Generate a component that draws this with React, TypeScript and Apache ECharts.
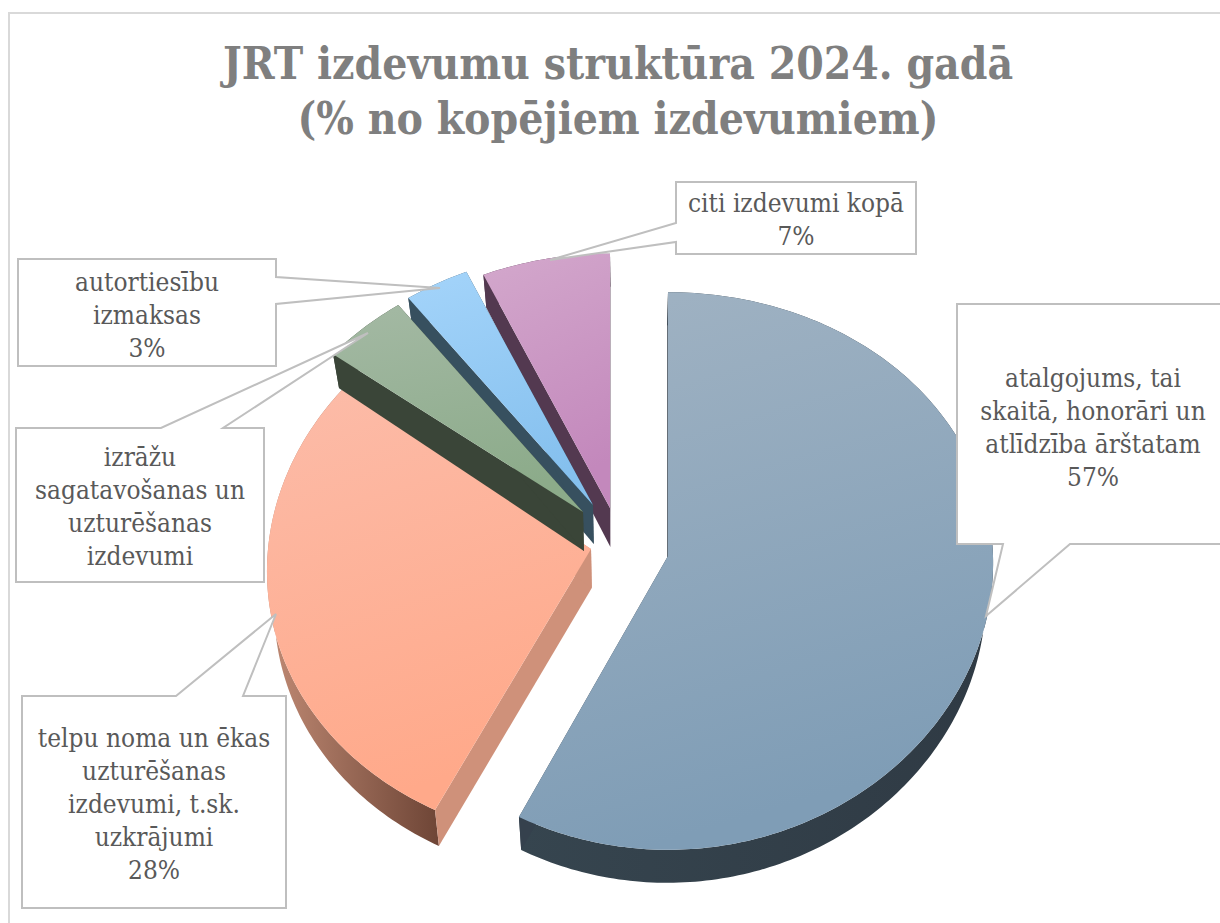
import React, { useEffect, useRef } from "react";
import * as echarts from "echarts";

const titleText = "JRT izdevumu struktūra 2024. gadā\n(% no kopējiem izdevumiem)";
const categories = [
  "atalgojums, tai\nskaitā, honorāri un\natlīdzība ārštatam",
  "telpu noma un ēkas\nuzturēšanas\nizdevumi, t.sk.\nuzkrājumi",
  "izrāžu\nsagatavošanas un\nuzturēšanas\nizdevumi",
  "autortiesību\nizmaksas",
  "citi izdevumi kopā",
];
const values = [57.4, 28.0, 4.5, 3.4, 6.7];
const showPercent = [true, true, false, true, true];

// Geometry and style, one entry per slice
const sliceGeometry = [
  { cx: 668, cy: 556, rx: 325, ry: 278, kx: 0.025, rimDepth: 33 },
  { cx: 591, cy: 549, rx: 323, ry: 278, kx: 0.08, rimDepth: 36 },
  { cx: 583, cy: 512, rx: 325, ry: 268, kx: 0.0537, rimDepth: 34 },
  { cx: 593, cy: 505, rx: 325, ry: 268, kx: 0.0537, rimDepth: 33 },
  { cx: 610, cy: 508, rx: 325, ry: 268, kx: 0.0537, rimDepth: 33 },
];
const topColors = [
  ["#A1B3C3", "#7F9DB6"],
  ["#FCBCA9", "#FFA98A"],
  ["#A4B9A4", "#8CAB8A"],
  ["#A4D4FA", "#85C0EE"],
  ["#D3A8CC", "#C388BC"],
];
const radialWallColors = ["#35414D", "#CF917A", "#3A4538", "#37505F", "#533950"];
const outerWallColors = [
  ["#36454F", "#2F3A44"],
  ["#C08A74", "#6E4536"],
  ["#3F483A", "#3F483A"],
  ["#3C5263", "#3C5263"],
  ["#553A50", "#553A50"],
];
const drawOrder = [4, 3, 1, 2, 0];

const PERSPECTIVE = 0.0537;
const VANISH_X = 630;
const SHRINK = 0.02;
const VERTEX_DEPTH = 39;

const callouts = [
  { poly: [[957, 304], [1240, 304], [1240, 544], [1070, 544], [986, 616], [1003, 544], [957, 544]], tx: 1093, ty: 427 },
  { poly: [[22, 696], [176, 696], [276, 614], [243, 696], [286, 696], [286, 908], [22, 908]], tx: 154, ty: 804 },
  { poly: [[16, 428], [161, 428], [368, 333], [223, 428], [264, 428], [264, 582], [16, 582]], tx: 140, ty: 506 },
  { poly: [[18, 259], [276, 259], [276, 277], [440, 288], [276, 304], [276, 366], [18, 366]], tx: 147, ty: 315 },
  { poly: [[676, 182], [916, 182], [916, 254], [676, 254], [676, 242], [550, 260], [676, 223]], tx: 796, ty: 219 },
];

function project(g: any, theta: number) {
  const u = Math.sin(theta);
  const v = Math.cos(theta);
  const w = 1 + PERSPECTIVE * v;
  const wx = 1 + g.kx * v;
  return [g.cx + (g.rx * u) / wx, g.cy - (g.ry * v) / w];
}
function drop(p: number[], depth: number) {
  return [p[0] + (VANISH_X - p[0]) * SHRINK, p[1] + depth];
}
function grad(c: string[], x2 = 0, y2 = 1) {
  return new echarts.graphic.LinearGradient(0, 0, x2, y2, [
    { offset: 0, color: c[0] },
    { offset: 1, color: c[1] },
  ]);
}

const total = values.reduce((a, b) => a + b, 0);
function sliceAngles(i: number) {
  let s = 0;
  for (let k = 0; k < i; k++) s += values[k];
  const a0 = (s / total) * Math.PI * 2;
  const a1 = ((s + values[i]) / total) * Math.PI * 2;
  return [a0, a1];
}

function renderSlice(_params: any, api: any) {
  const i = api.value(0);
  const g = sliceGeometry[i];
  const [a0, a1] = sliceAngles(i);
  const n = Math.max(12, Math.round((a1 - a0) * 60));
  const rim: number[][] = [];
  for (let k = 0; k <= n; k++) rim.push(project(g, a0 + ((a1 - a0) * k) / n));
  const rimLow = rim.map((p) => drop(p, g.rimDepth));
  const vertex = [g.cx, g.cy];
  const vertexLow = drop(vertex, VERTEX_DEPTH);
  const children: any[] = [];
  const poly = (points: number[][], fill: any) =>
    children.push({ type: "polygon", shape: { points }, style: { fill, stroke: "none" } });
  poly([...rim, ...rimLow.slice().reverse()], grad(outerWallColors[i], 1, 0));
  poly([vertex, vertexLow, rimLow[0], rim[0]], radialWallColors[i]);
  poly([vertex, vertexLow, rimLow[n], rim[n]], radialWallColors[i]);
  poly([vertex, ...rim], grad(topColors[i], 0.25, 1));
  return { type: "group", children };
}

function labelText(i: number) {
  return showPercent[i] ? `${categories[i]}\n${Math.round(values[i])}%` : categories[i];
}

export default function App() {
  const ref = useRef<HTMLDivElement>(null);
  useEffect(() => {
    document.body.style.margin = "0";
    document.body.style.overflow = "hidden";
    const chart = echarts.init(ref.current!, null, { renderer: "svg" });
    const graphics: any[] = [
      {
        type: "rect",
        z: 0,
        shape: { x: 9, y: 13, width: 1240, height: 1000 },
        style: { fill: "#ffffff", stroke: "#D9D9D9", lineWidth: 2 },
      },
    ];
    callouts.forEach((c, i) => {
      graphics.push({
        type: "polygon",
        z: 50,
        shape: { points: c.poly },
        style: { fill: "#ffffff", stroke: "#BFBFBF", lineWidth: 2 },
      });
      graphics.push({
        type: "text",
        z: 51,
        x: c.tx,
        y: c.ty,
        style: {
          text: labelText(i),
          font: '26px "DejaVu Serif Condensed"',
          fill: "#595959",
          textAlign: "center",
          textVerticalAlign: "middle",
          lineHeight: 33,
        },
      });
    });
    chart.setOption({
      animation: false,
      backgroundColor: "#ffffff",
      title: {
        text: titleText,
        left: 613,
        top: 31,
        textAlign: "center",
        textStyle: {
          fontFamily: "DejaVu Serif Condensed",
          fontWeight: "bold",
          fontSize: 44,
          lineHeight: 55,
          color: "#7F7F7F",
        },
      },
      graphic: { elements: graphics },
      series: [
        {
          type: "custom",
          coordinateSystem: "none",
          z: 10,
          renderItem: renderSlice,
          data: drawOrder.map((i) => [i, values[i]]),
          silent: true,
        },
      ],
    });
    return () => chart.dispose();
  }, []);
  return <div ref={ref} style={{ position: "fixed", left: 0, top: 0, width: 1220, height: 923 }} />;
}
